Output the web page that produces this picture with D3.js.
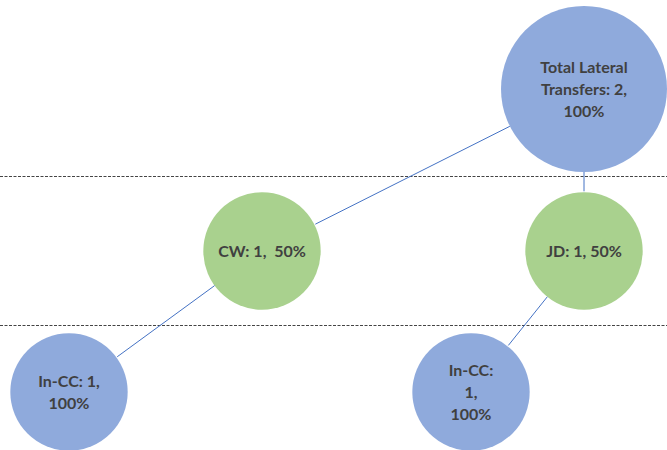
<!DOCTYPE html>
<html>
<head>
<meta charset="utf-8">
<script src="https://cdn.jsdelivr.net/npm/d3@7"></script>
<style>
  html, body { margin: 0; padding: 0; background: #fff; }
</style>
</head>
<body>
<script>
// tree data
const nodeNames = ["Total Lateral Transfers", "CW", "JD", "In-CC", "In-CC"];
const nodeCounts = [2, 1, 1, 1, 1];
const nodePercents = [100, 50, 50, 100, 100];
const nodeGaps = [" ", "  ", " ", " ", " "];
const nodeParents = [null, 0, 0, 1, 2];
const nodeLevels = [0, 1, 1, 2, 2];

const width = 667;
const height = 450;

const svg = d3.select("body").append("svg")
    .attr("width", width)
    .attr("height", height);

// layout: level -> y, node -> horizontal slot
const y = d3.scaleOrdinal().domain([0, 1, 2]).range([89, 251, 392]);
const x = d3.scaleOrdinal().domain([0, 1, 2, 3, 4]).range([584, 262, 584, 69, 471]);
const r = d3.scaleSqrt().domain([0, 2]).range([0, 83]);
const wrapWidth = [115, 130, 130, 85, 40];
const fill = d3.scaleOrdinal().domain([0, 1, 2]).range(["#8FAADC", "#A9D18E", "#8FAADC"]);
const dividerY = [176.5, 325.5];

const nodes = nodeNames.map((name, i) => ({
    i,
    name,
    count: nodeCounts[i],
    pct: nodePercents[i],
    parent: nodeParents[i],
    level: nodeLevels[i],
    label: name + ": " + nodeCounts[i] + "," + nodeGaps[i] + nodePercents[i] + "%"
}));
nodes.forEach(d => { d.x = x(d.i); d.y = y(d.level); d.r = r(d.count); });

// dashed level dividers
svg.selectAll(".divider")
    .data(dividerY)
    .enter()
    .append("line")
    .attr("x1", 0)
    .attr("x2", width)
    .attr("y1", d => d)
    .attr("y2", d => d)
    .attr("stroke", "#444")
    .attr("stroke-width", 1)
    .attr("stroke-dasharray", "3,1.5");

svg.selectAll(".node")
    .data(nodes)
    .enter()
    .append("circle")
    .attr("cx", d => d.x)
    .attr("cy", d => d.y)
    .attr("r", d => d.r)
    .attr("fill", d => fill(d.level));

// links from parent edge to child edge
const links = nodes.filter(d => d.parent !== null).map(d => ({ source: nodes[d.parent], target: d }));
svg.selectAll(".link")
    .data(links)
    .enter()
    .append("line")
    .each(function(l) {
        const dx = l.target.x - l.source.x, dy = l.target.y - l.source.y;
        const len = Math.sqrt(dx * dx + dy * dy);
        const ux = dx / len, uy = dy / len;
        d3.select(this)
            .attr("x1", l.source.x + ux * l.source.r)
            .attr("y1", l.source.y + uy * l.source.r)
            .attr("x2", l.target.x - ux * (l.target.r + 1))
            .attr("y2", l.target.y - uy * (l.target.r + 1));
    })
    .attr("stroke", "#4472C4")
    .attr("stroke-width", 1);

// labels with word wrap
const lineH = 22;
const label = svg.selectAll(".label")
    .data(nodes)
    .enter()
    .append("text")
    .attr("text-anchor", "middle")
    .attr("font-family", "Lato, 'Open Sans', sans-serif")
    .attr("font-weight", "bold")
    .attr("font-size", "16px")
    .attr("fill", "#404040")
    .style("white-space", "pre");

label.each(function(d) {
    const t = d3.select(this);
    const words = d.label.split(/(?<=\S) (?=\S)/);
    const lines = [];
    let cur = "";
    const probe = t.append("tspan");
    words.forEach(w => {
        const test = cur ? cur + " " + w : w;
        probe.text(test);
        if (cur && probe.node().getComputedTextLength() > wrapWidth[d.i]) {
            lines.push(cur);
            cur = w;
        } else {
            cur = test;
        }
    });
    lines.push(cur);
    probe.remove();
    const y0 = d.y - (lines.length - 1) * lineH / 2 + 6;
    lines.forEach((ln, k) => {
        t.append("tspan")
            .attr("x", d.x)
            .attr("y", y0 + k * lineH)
            .text(ln);
    });
});
</script>
</body>
</html>
